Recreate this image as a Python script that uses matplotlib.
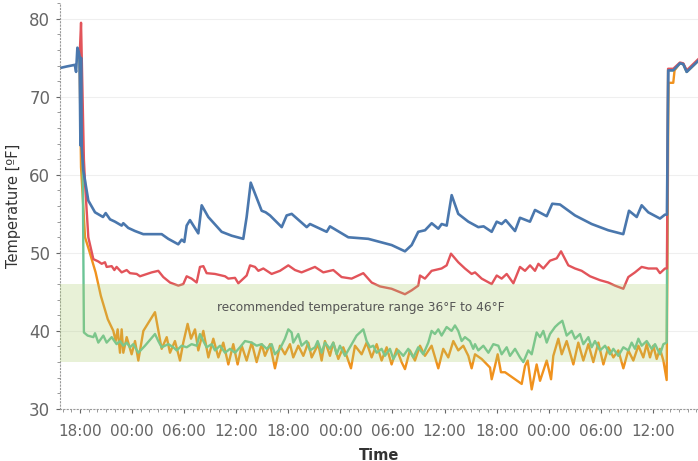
import matplotlib.pyplot as plt
from matplotlib.ticker import MultipleLocator

# time in hours since midnight of the first day, temperature in °F
blue_t = [15.7, 16.5, 17.4, 17.55, 17.7, 17.85, 17.95, 18.05, 18.12, 18.2, 18.38, 18.96, 19.73, 20.65, 20.96,
          21.46, 22.03, 22.8, 22.99, 23.56, 24.34, 25.29, 27.41, 28.17, 29.32, 29.72, 30.02, 30.29, 30.67,
          31.63, 32.02, 32.78, 34.32, 35.48, 36.81, 37.2, 37.67, 38.16, 38.93, 39.39, 39.89, 41.24, 41.81,
          42.39, 44.12, 44.5, 46.42, 46.8, 48.91, 51.21, 53.91, 55.44, 56.21, 56.97, 57.75, 58.52, 59.28,
          59.67, 60.25, 60.82, 61.58, 62.74, 63.89, 64.5, 65.43, 66.01, 66.58, 67.04, 68.12, 68.69, 69.84,
          70.42, 71.77, 72.41, 73.3, 75.03, 76.95, 78.86, 80.59, 81.25, 82.14, 82.71, 83.47, 84.82, 85.39,
          85.62, 85.78, 86.35, 87.12, 87.5, 87.9, 89.2]
blue_v = [73.7, 73.9, 74.1, 73.2, 76.3, 75.8, 75.2, 63.8, 75.0, 63.5, 60.6, 56.7, 55.2, 54.6, 55.1,
          54.3, 54.0, 53.5, 53.8, 53.2, 52.8, 52.4, 52.4, 51.8, 51.1, 51.7, 51.4, 53.5, 54.2,
          52.5, 56.1, 54.6, 52.7, 52.2, 51.8, 54.6, 59.0, 57.6, 55.4, 55.2, 54.8, 53.3, 54.8,
          55.0, 53.3, 53.7, 52.7, 53.4, 52.0, 51.8, 51.0, 50.2, 51.0, 52.7, 52.9, 53.8, 53.1,
          53.7, 53.5, 57.4, 55.0, 54.0, 53.3, 53.4, 52.7, 54.0, 53.7, 54.2, 52.8, 54.5, 54.0,
          55.5, 54.7, 56.3, 56.2, 54.8, 53.7, 52.9, 52.4, 55.4, 54.6, 56.1, 55.2, 54.4, 54.9,
          54.9, 73.4, 73.4, 74.3, 74.2, 73.2, 74.6]

red_t = [17.95, 18.12, 18.45, 18.6, 18.96, 19.54, 20.11, 20.5, 20.88, 21.07, 21.65, 21.96, 22.22, 22.8,
         23.38, 23.76, 24.53, 24.91, 26.26, 27.02, 27.6, 28.37, 29.33, 29.9, 30.29, 30.86, 31.44, 31.82,
         32.21, 32.59, 33.55, 34.71, 35.09, 35.86, 36.24, 36.82, 37.2, 37.59, 38.16, 38.55, 39.12, 40.08,
         41.04, 42.0, 42.77, 43.53, 45.07, 46.03, 47.18, 48.14, 49.29, 50.64, 51.6, 52.56, 53.9, 55.44,
         56.21, 56.97, 57.17, 57.74, 58.51, 59.66, 60.24, 60.74, 61.58, 62.35, 63.12, 63.51, 64.28, 65.43,
         66.01, 66.58, 67.16, 67.93, 68.69, 69.27, 69.85, 70.42, 70.81, 71.38, 72.15, 72.92, 73.42, 74.26,
         75.03, 75.8, 76.76, 77.91, 78.87, 79.64, 80.6, 81.17, 81.94, 82.71, 83.48, 84.44, 84.82, 85.4,
         85.62, 85.75, 86.35, 87.12, 87.5, 87.9, 89.2]
red_v = [75.0, 79.5, 62.0, 58.5, 52.0, 49.2, 48.9, 48.6, 48.8, 48.2, 48.3, 47.8, 48.2, 47.5,
         47.8, 47.4, 47.3, 47.0, 47.5, 47.7, 46.9, 46.2, 45.8, 46.0, 47.0, 46.7, 46.2, 48.2,
         48.3, 47.4, 47.3, 47.0, 46.7, 46.8, 46.1, 46.7, 47.1, 48.4, 48.2, 47.7, 48.0, 47.3,
         47.7, 48.4, 47.8, 47.5, 48.2, 47.5, 47.8, 46.9, 46.7, 47.4, 46.2, 45.7, 45.4, 44.7,
         45.2, 45.8, 47.1, 46.7, 47.7, 48.0, 48.4, 49.9, 48.8, 48.0, 47.3, 47.5, 46.7, 46.0,
         47.1, 46.7, 47.3, 46.1, 48.2, 47.7, 48.4, 47.7, 48.6, 48.0, 49.0, 49.3, 50.2, 48.4,
         48.0, 47.7, 47.0, 46.5, 46.2, 45.8, 45.4, 46.9, 47.5, 48.2, 48.0, 48.0, 47.4, 48.0,
         48.0, 73.6, 73.6, 74.4, 74.3, 73.4, 74.8]

orange_t = [17.95, 18.12, 18.58, 19.0, 19.8, 20.4, 21.2, 21.84, 22.11, 22.34, 22.61, 22.8, 22.99, 23.38,
            23.95, 24.34, 24.72, 25.3, 26.64, 27.41, 27.99, 28.37, 28.94, 29.52, 29.9, 30.4, 30.79, 31.25,
            31.63, 32.21, 32.79, 33.36, 33.94, 34.51, 35.09, 35.66, 36.16, 36.63, 37.2, 37.78, 38.35,
            38.93, 39.31, 39.89, 40.46, 41.04, 41.61, 42.19, 42.57, 43.15, 43.73, 44.3, 44.69, 45.45,
            45.84, 46.22, 46.8, 47.18, 47.76, 48.33, 48.72, 49.22, 49.68, 50.45, 51.02, 51.6, 52.18,
            52.75, 53.33, 53.9, 54.48, 55.05, 55.44, 56.01, 56.59, 57.17, 57.74, 58.51, 59.28, 59.85,
            60.43, 61.01, 61.58, 62.16, 62.74, 63.12, 63.51, 64.28, 65.24, 65.43, 65.81, 66.12, 66.5,
            66.97, 68.89, 69.27, 69.58, 70.04, 70.61, 71.0, 71.77, 72.27, 72.53, 73.11, 73.5, 74.07,
            74.84, 75.41, 75.99, 76.57, 77.14, 77.72, 78.3, 78.87, 79.45, 80.02, 80.6, 81.17, 81.75,
            82.33, 82.9, 83.29, 83.67, 84.05, 84.44, 84.82, 85.21, 85.59, 85.8, 86.35, 86.5, 87.12,
            87.5, 87.9, 89.2]
orange_v = [75.0, 61.0, 52.0, 50.5, 47.5, 44.5, 41.5, 40.0, 38.7, 40.2, 37.2, 40.2, 37.2, 39.2,
            37.0, 38.7, 36.2, 40.0, 42.4, 37.7, 39.2, 37.2, 38.7, 36.2, 38.5, 40.9, 39.0, 40.2,
            37.5, 40.0, 36.6, 39.0, 36.6, 38.5, 35.7, 38.3, 35.7, 38.1, 36.2, 38.5, 36.0,
            38.3, 36.8, 38.3, 35.2, 38.1, 37.0, 38.3, 36.6, 38.1, 36.8, 38.5, 36.6, 38.3,
            36.2, 38.7, 36.8, 38.5, 36.4, 37.9, 36.8, 35.2, 38.1, 37.0, 38.5, 36.6, 38.3,
            36.2, 37.9, 35.7, 37.7, 36.0, 35.1, 37.5, 36.2, 38.1, 36.8, 38.1, 35.2, 37.7,
            36.6, 38.7, 37.5, 38.1, 36.8, 35.2, 37.0, 36.4, 35.3, 33.8, 35.5, 37.0, 34.7,
            34.7, 33.2, 35.5, 36.2, 32.5, 35.7, 33.6, 36.2, 33.8, 36.8, 39.0, 37.0, 38.7,
            35.7, 38.5, 36.2, 38.3, 36.0, 38.5, 35.7, 37.9, 36.6, 37.5, 35.2, 37.5, 36.2,
            38.1, 36.6, 38.3, 36.6, 38.1, 36.4, 37.7, 36.2, 33.7, 71.8, 71.8, 73.4, 74.3,
            74.2, 73.2, 74.6]

green_t = [17.95, 18.3, 18.45, 18.88, 19.54, 19.73, 20.11, 20.69, 21.07, 21.65, 21.96, 22.22, 22.61,
           22.99, 23.38, 23.76, 24.14, 24.72, 25.49, 26.64, 27.02, 27.41, 28.18, 28.75, 29.14, 29.71,
           30.29, 30.86, 31.44, 31.82, 32.21, 32.59, 33.17, 33.55, 34.13, 34.71, 35.28, 35.86, 36.43,
           37.01, 37.78, 38.35, 38.93, 39.51, 40.08, 40.46, 41.04, 41.61, 42.0, 42.38, 42.57, 43.15,
           43.53, 44.11, 44.49, 45.07, 45.38, 45.84, 46.22, 46.8, 47.18, 47.57, 47.95, 48.53, 49.1,
           49.87, 50.64, 51.02, 51.41, 51.79, 52.18, 52.75, 53.13, 53.71, 54.1, 54.67, 55.25, 55.82,
           56.4, 56.97, 57.55, 58.13, 58.51, 58.89, 59.28, 59.66, 60.24, 60.81, 61.2, 61.58, 61.97,
           62.35, 62.93, 63.31, 63.51, 63.89, 64.47, 65.05, 65.62, 66.2, 66.58, 67.16, 67.54, 68.12,
           68.69, 69.08, 69.65, 70.04, 70.61, 71.0, 71.38, 71.77, 72.15, 72.73, 73.11, 73.57, 74.07,
           74.65, 75.03, 75.61, 75.99, 76.57, 76.95, 77.33, 77.91, 78.49, 79.06, 79.45, 80.02, 80.6,
           81.17, 81.56, 81.94, 82.33, 82.71, 83.29, 83.86, 84.25, 84.82, 85.21, 85.59, 85.75, 86.35,
           87.12, 87.5, 87.9, 89.2]
green_v = [75.0, 63.5, 39.8, 39.4, 39.2, 39.7, 38.5, 39.4, 38.5, 39.2, 38.7, 38.3, 38.7,
           38.1, 38.5, 37.9, 38.3, 37.2, 38.1, 39.6, 38.7, 37.9, 38.3, 37.9, 37.5, 38.1,
           37.9, 38.3, 38.1, 39.6, 38.7, 37.9, 38.3, 37.5, 38.1, 37.2, 37.7, 37.2, 37.9,
           38.7, 38.5, 38.1, 38.3, 37.7, 38.3, 37.0, 37.7, 39.0, 40.2, 39.8, 38.5, 39.6,
           38.1, 38.7, 37.5, 37.9, 38.7, 37.2, 38.5, 37.7, 38.5, 37.0, 38.1, 36.8, 37.9,
           39.4, 40.2, 38.7, 37.9, 38.1, 37.2, 37.7, 36.8, 37.7, 36.4, 37.5, 36.8, 37.7,
           36.6, 37.9, 37.0, 38.5, 40.0, 39.6, 40.2, 39.4, 40.5, 40.0, 40.7, 40.0, 38.7,
           39.2, 38.7, 37.7, 38.3, 37.5, 38.1, 37.2, 38.3, 38.1, 37.0, 37.9, 36.8, 37.7,
           36.6, 36.0, 37.5, 37.0, 39.8, 39.2, 40.0, 38.5, 39.6, 40.5, 40.9, 41.3, 39.4,
           40.0, 39.0, 39.6, 38.3, 39.2, 37.9, 38.7, 37.5, 38.1, 37.0, 37.7, 36.8, 37.9,
           37.5, 38.5, 37.7, 39.0, 38.1, 38.7, 37.7, 38.3, 37.0, 38.3, 38.5, 73.4, 73.4,
           74.3, 74.2, 73.2, 74.6]

tick_hours = [18, 24, 30, 36, 42, 48, 54, 60, 66, 72, 78, 84]
tick_labels = ["18:00", "00:00", "06:00", "12:00"] * 3
band_low, band_high = 36, 46
band_text = "recommended temperature range 36°F to 46°F"

fig = plt.figure(figsize=(6.98, 4.61), dpi=100)
ax = fig.add_axes([0.086, 0.113, 0.914, 0.881])

ax.plot(orange_t, orange_v, color="#f0921e", lw=1.7, zorder=2)
ax.plot(green_t, green_v, color="#6cc496", lw=1.7, zorder=2)
ax.plot(red_t, red_v, color="#e2545a", lw=1.7, zorder=2)
ax.plot(blue_t, blue_v, color="#4a77ad", lw=1.9, zorder=2)

ax.fill_between([15.7, 85.65], band_low, band_high, color="#aacd6e", alpha=0.27, lw=0, zorder=3)
ax.text(50.3, 43.0, band_text, ha="center", va="center", fontsize=8.7, color="#555555", zorder=4)

ax.set_xlim(15.7, 89.2)
ax.set_ylim(30, 82.06)
ax.set_xticks(tick_hours)
ax.set_xticklabels(tick_labels)
ax.set_yticks([30, 40, 50, 60, 70, 80])
ax.xaxis.set_minor_locator(MultipleLocator(1))
ax.yaxis.set_minor_locator(MultipleLocator(2))
ax.tick_params(axis="x", which="major", labelsize=11, colors="#666666", length=3, width=0.8, pad=8)
ax.tick_params(axis="y", which="major", labelsize=12, colors="#666666", length=3, width=0.8, pad=4)
ax.tick_params(axis="both", which="minor", length=2, width=0.6, colors="#888888")
ax.grid(axis="y", color="#efefef", lw=0.8, zorder=0)

for s in ["top", "right"]:
    ax.spines[s].set_visible(False)
for s in ["left", "bottom"]:
    ax.spines[s].set_linestyle((0, (1, 2)))
    ax.spines[s].set_color("#999999")
    ax.spines[s].set_linewidth(0.8)

ax.set_ylabel("Temperature [ºF]", fontsize=10.5, color="#333333", labelpad=6)
ax.set_xlabel("Time", fontsize=10.5, color="#333333", fontweight="bold", labelpad=6)

fig.savefig("out.png", dpi=100)
